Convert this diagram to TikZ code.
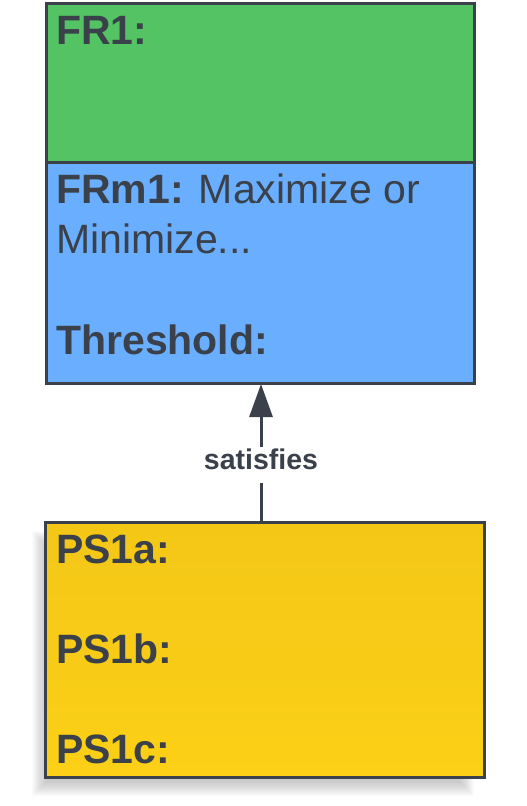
\documentclass[tikz,border=0pt]{standalone}
\usepackage{fontspec}
\setmainfont{Liberation Sans}
\usetikzlibrary{arrows.meta}
\definecolor{ink}{HTML}{3A414A}
\definecolor{frgreen}{HTML}{54C363}
\definecolor{frblue}{HTML}{6AAFFF}
\definecolor{psytop}{HTML}{F4C717}
\definecolor{psybot}{HTML}{FBD016}
\tikzset{
  boxline/.style={draw=ink, line width=3pt},
  bigtext/.style={anchor=base west, inner sep=0pt, text=ink, font=\fontsize{41}{50}\selectfont},
  lbltext/.style={fill=white, text=ink, font=\bfseries\fontsize{28.5}{30}\selectfont, text height=20pt, text depth=10pt, inner xsep=2pt, inner ysep=3pt},
  link/.style={draw=ink, line width=3pt, -{Triangle[length=33pt,width=23pt]}}
}
\begin{document}
\begin{tikzpicture}[x=1pt,y=-1pt]
\useasboundingbox (0,0) rectangle (527,806);
% soft shadow of the yellow box
\foreach \k in {0,...,14}{
  \fill[black, opacity=0.017] (46-\k,545-\k) rectangle (460+\k,782+\k);
}
% top box
\fill[frgreen] (45,2) rectangle (473,162);
\fill[frblue] (45,162) rectangle (473,382);
\node[boxline, minimum width=428pt, minimum height=380pt, inner sep=0pt, anchor=north west] (fr) at (45,2) {};
\draw[boxline] (fr.west |- 0,162) coordinate (dl) -- (fr.east |- 0,162) coordinate (dr);
\node[bigtext] (fr1) at (56,44) {\bfseries FR1:};
\node[bigtext] (frm1) at (56,203) {\textbf{FRm1:} Maximize or};
\node[bigtext] (mini) at (56,253) {Minimize...};
\node[bigtext] (thr) at (56,354) {\bfseries Threshold:};
% yellow box
\node[boxline, top color=psytop, bottom color=psybot, minimum width=439pt, minimum height=255pt, inner sep=0pt, anchor=north west] (ps) at (44,521) {};
\node[bigtext] (ps1a) at (56,563) {\bfseries PS1a:};
\node[bigtext] (ps1b) at (56,663) {\bfseries PS1b:};
\node[bigtext] (ps1c) at (56,763) {\bfseries PS1c:};
% connector
\coordinate (psin) at (261,521);
\coordinate (frin) at (261,384);
\draw[link] (psin) -- node[lbltext, pos=0.41] (sat) {satisfies} (frin);
\end{tikzpicture}
\end{document}
